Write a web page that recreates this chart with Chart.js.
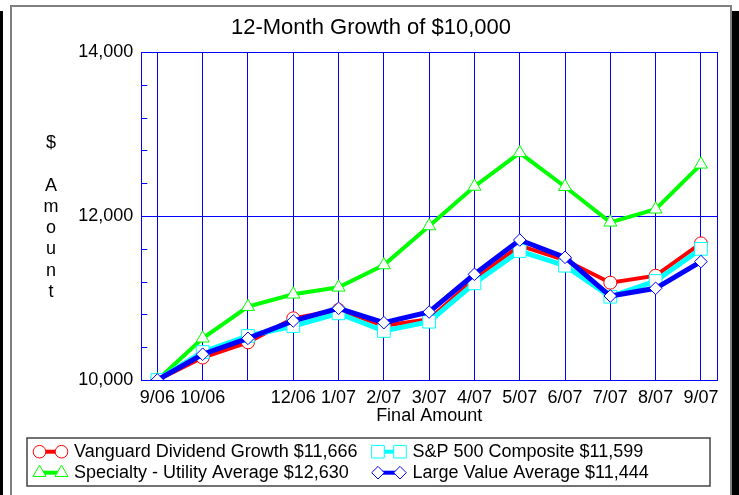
<!DOCTYPE html>
<html>
<head>
<meta charset="utf-8">
<script src="https://cdn.jsdelivr.net/npm/chart.js@4/dist/chart.umd.min.js"></script>
<style>
  body { margin: 0; background: #fff; width: 739px; height: 495px; overflow: hidden; position: relative; }
  #frame { position: absolute; left: 10px; top: 5px; width: 718px; height: 600px; border: 2px solid #808080; }
  #shadowL { position: absolute; left: 0; top: 11px; width: 3px; height: 500px; background: #000; }
  #shadowR { position: absolute; left: 732px; top: 11px; width: 7px; height: 500px; background: #000; }
  #chart { position: absolute; left: 0; top: 0; }
</style>
</head>
<body>
<div id="shadowL"></div>
<div id="frame"></div>
<div id="shadowR"></div>
<canvas id="chart" width="739" height="495"></canvas>
<script>
const months = ['9/06', '10/06', '11/06', '12/06', '1/07', '2/07', '3/07', '4/07', '5/07', '6/07', '7/07', '8/07', '9/07'];
const vanguard   = [10000, 10274, 10459, 10752, 10854, 10662, 10740, 11228, 11638, 11463, 11187, 11272, 11666];
const sp500      = [10000, 10341, 10537, 10658, 10813, 10598, 10711, 11179, 11573, 11394, 11016, 11207, 11599];
const utility    = [10000, 10509, 10894, 11045, 11130, 11402, 11878, 12360, 12770, 12357, 11923, 12082, 12630];
const largeValue = [10000, 10314, 10508, 10720, 10874, 10699, 10829, 11289, 11707, 11496, 11024, 11118, 11444];
const seriesNames = ['Vanguard Dividend Growth $11,666', 'S&P 500 Composite $11,599', 'Specialty - Utility Average $12,630', 'Large Value Average $11,444'];
const hiddenLabels = ['11/06']; // skipped on the axis in the original
const yTitleLines = ['$', '', 'A', 'm', 'o', 'u', 'n', 't'];

const FONT = "'Liberation Sans', Arial, Helvetica, sans-serif";
const BLUE = '#0000ff';

function toPoints(arr) {
    return arr.map((v, i) => ({ x: i, y: v }));
}

// small marker used by the hand drawn legend
function drawMarker(ctx, style, x, y, color) {
    ctx.beginPath();
    if (style === 'circle') {
        ctx.arc(x, y, 6.3, 0, Math.PI * 2);
    } else if (style === 'rect') {
        ctx.rect(x - 6.3, y - 6.3, 12.6, 12.6);
    } else if (style === 'triangle') {
        const r = 7.5;
        ctx.moveTo(x, y - r);
        ctx.lineTo(x + r * 0.866, y + r * 0.5);
        ctx.lineTo(x - r * 0.866, y + r * 0.5);
        ctx.closePath();
    } else {
        const r = 6.3;
        ctx.moveTo(x, y - r);
        ctx.lineTo(x + r, y);
        ctx.lineTo(x, y + r);
        ctx.lineTo(x - r, y);
        ctx.closePath();
    }
    ctx.fillStyle = '#fff';
    ctx.fill();
    ctx.lineWidth = 1;
    ctx.strokeStyle = color;
    ctx.stroke();
}

const decor = {
    id: 'decor',
    beforeDatasetsDraw(chart) {
        const { ctx, chartArea: a, scales: { y } } = chart;
        ctx.save();
        ctx.strokeStyle = BLUE;
        ctx.lineWidth = 1;
        ctx.strokeRect(Math.round(a.left) + 0.5, Math.round(a.top) + 0.5,
            Math.round(a.right) - Math.round(a.left), Math.round(a.bottom) - Math.round(a.top));
        y.ticks.forEach(t => {
            if (t.value % 2000 !== 0) {
                const py = Math.round(y.getPixelForValue(t.value)) + 0.5;
                ctx.beginPath();
                ctx.moveTo(a.left, py);
                ctx.lineTo(a.left + 6, py);
                ctx.stroke();
            }
        });
        ctx.restore();
    },
    afterDraw(chart) {
        const ctx = chart.ctx;
        ctx.save();
        ctx.fillStyle = '#000';
        ctx.font = '18px ' + FONT;
        ctx.textAlign = 'center';
        ctx.textBaseline = 'middle';
        yTitleLines.forEach((ch, i) => ctx.fillText(ch, 51, 143 + i * 21.3));

        // legend box
        ctx.strokeStyle = '#444';
        ctx.lineWidth = 1.5;
        ctx.strokeRect(27, 438, 683, 48);
        const colX = [33, 371.5];
        const rowY = [451.7, 472.7];
        chart.data.datasets.forEach((ds, i) => {
            const x0 = colX[i % 2];
            const yy = rowY[Math.floor(i / 2)];
            const m1 = x0 + 6.5, m2 = x0 + 28.5;
            ctx.strokeStyle = ds.borderColor;
            ctx.lineWidth = 4;
            ctx.beginPath();
            ctx.moveTo(m1, yy);
            ctx.lineTo(m2, yy);
            ctx.stroke();
            drawMarker(ctx, ds.pointStyle, m1, yy, ds.borderColor);
            drawMarker(ctx, ds.pointStyle, m2, yy, ds.borderColor);
            ctx.fillStyle = '#000';
            ctx.textAlign = 'left';
            ctx.fillText(ds.label, x0 + 41, yy);
        });
        ctx.restore();
    }
};

function series(label, values, color, style, radius, width, order) {
    return {
        label: label,
        data: toPoints(values),
        borderColor: color,
        borderWidth: width,
        pointStyle: style,
        pointRadius: radius,
        pointHoverRadius: radius,
        pointBackgroundColor: '#fff',
        pointBorderColor: color,
        pointBorderWidth: 1,
        tension: 0,
        order: order
    };
}

new Chart(document.getElementById('chart'), {
    type: 'line',
    data: {
        datasets: [
            series(seriesNames[0], vanguard, '#ff0000', 'circle', 6.5, 4, 2),
            series(seriesNames[1], sp500, '#00ffff', 'rect', 9, 5, 1),
            series(seriesNames[2], utility, '#00ff00', 'triangle', 7.5, 4, 3),
            series(seriesNames[3], largeValue, BLUE, 'rectRot', 6.3, 5, 0)
        ]
    },
    options: {
        responsive: false,
        animation: false,
        layout: { padding: { left: 25, right: 22, top: 0, bottom: 67 } },
        plugins: {
            legend: { display: false },
            tooltip: { enabled: false },
            title: {
                display: true,
                text: '12-Month Growth of $10,000',
                color: '#000',
                font: { family: FONT, size: 22, weight: 'normal' },
                padding: { top: 15, bottom: 10.6 }
            }
        },
        scales: {
            x: {
                type: 'linear',
                min: -0.355,
                max: 12.355,
                afterFit: s => { s.height = 48; },
                border: { display: false },
                grid: { color: BLUE, lineWidth: 1, drawTicks: false },
                ticks: {
                    stepSize: 1,
                    includeBounds: false,
                    autoSkip: false,
                    maxRotation: 0,
                    padding: 7,
                    color: '#000',
                    font: { family: FONT, size: 18 },
                    callback: v => {
                        const lab = months[v];
                        return Number.isInteger(v) && lab && !hiddenLabels.includes(lab) ? lab : '';
                    }
                },
                title: {
                    display: true,
                    text: 'Final Amount',
                    color: '#000',
                    font: { family: FONT, size: 18 },
                    padding: { top: 0, bottom: 1 }
                }
            },
            y: {
                min: 10000,
                max: 14000,
                afterFit: s => { s.width = 116.3; },
                border: { display: false },
                grid: {
                    drawTicks: false,
                    lineWidth: 1,
                    color: c => (c.tick && c.tick.value % 2000 === 0) ? BLUE : 'rgba(0,0,0,0)'
                },
                ticks: {
                    stepSize: 400,
                    padding: 8,
                    color: '#000',
                    font: { family: FONT, size: 18 },
                    callback: v => v % 2000 === 0 ? v.toLocaleString('en-US') : ''
                }
            }
        }
    },
    plugins: [decor]
});
</script>
</body>
</html>
